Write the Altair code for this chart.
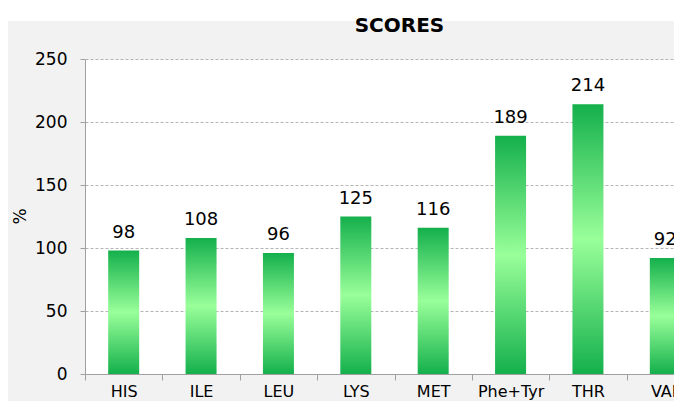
import altair as alt
import pandas as pd

categories = ["HIS", "ILE", "LEU", "LYS", "MET", "Phe+Tyr", "THR", "VAL"]
scores = [98, 108, 96, 125, 116, 189, 214, 92]

df = pd.DataFrame({"aa": categories, "score": scores})

FONT = "DejaVu Sans"
DARK = "#14b04c"
LIGHT = "#99ff99"

gradient = alt.Gradient(
    gradient="linear",
    x1=0, x2=0, y1=0, y2=1,
    stops=[
        alt.GradientStop(color=DARK, offset=0),
        alt.GradientStop(color=LIGHT, offset=0.5),
        alt.GradientStop(color=DARK, offset=1),
    ],
)

x_scale = alt.Scale(paddingInner=0, paddingOuter=0, range=[0, 619])
y_scale = alt.Scale(domain=[0, 250], nice=False, zero=True)

x_enc = alt.X(
    "aa:N",
    sort=categories,
    scale=x_scale,
    axis=alt.Axis(
        title=None,
        labelAngle=0,
        tickBand="extent",
        tickSize=6,
        tickColor="#a0a0a0",
        domainColor="#a0a0a0",
        labelFont=FONT,
        labelFontSize=16,
        labelColor="black",
        labelPadding=3,
        grid=False,
    ),
)
y_enc = alt.Y(
    "score:Q",
    scale=y_scale,
    axis=alt.Axis(
        values=[0, 50, 100, 150, 200, 250],
        title="%",
        titleFont=FONT,
        titleFontSize=17,
        titleFontWeight="normal",
        titleColor="black",
        titleX=-65,
        titleY=157,
        titleAlign="center",
        titleBaseline="middle",
        titleAngle=270,
        labelFont=FONT,
        labelFontSize=17,
        labelColor="black",
        labelPadding=13,
        tickSize=5,
        tickColor="#a0a0a0",
        domainColor="#a0a0a0",
        grid=True,
        gridColor="#b5b5b5",
        gridDash=[3, 2],
        gridWidth=1,
    ),
)

white_strip = alt.Chart(pd.DataFrame({"k": [0]})).mark_rect(color="white").encode(
    x=alt.value(-90), x2=alt.value(640), y=alt.value(-51), y2=alt.value(-38)
)

bars = alt.Chart(df).mark_bar(color=gradient, size=31).encode(x=x_enc, y=y_enc)

labels = alt.Chart(df).mark_text(
    font=FONT, fontSize=18, color="black", dy=-13, baseline="alphabetic"
).encode(
    x=alt.X("aa:N", sort=categories, scale=x_scale),
    y=alt.Y("score:Q", scale=y_scale),
    text="score:Q",
)

chart = (
    alt.layer(white_strip, bars, labels)
    .properties(
        width=589,
        height=315,
        padding={"left": 77, "top": 51, "right": 0, "bottom": 27},
        autosize=alt.AutoSizeParams(type="none"),
        title=alt.Title(
            "SCORES", font=FONT, fontSize=20, fontWeight="bold", color="black",
            offset=-28, dx=20, anchor="middle", frame="group",
        ),
    )
    .configure(background="#f2f2f2")
    .configure_view(fill="white", stroke="transparent")
)

chart.save("out.html", embed_options={"renderer": "svg", "actions": False})
